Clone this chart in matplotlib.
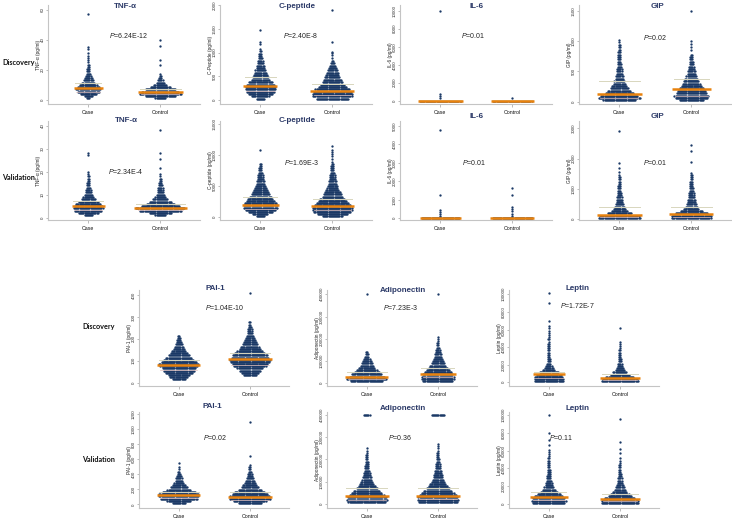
import numpy as np
import matplotlib
matplotlib.use("Agg")
import matplotlib.pyplot as plt
from collections import Counter

plt.rcParams['font.family'] = ['Liberation Sans', 'DejaVu Sans']
plt.rcParams['mathtext.fontset'] = 'custom'
plt.rcParams['mathtext.it'] = 'Liberation Sans:italic'
plt.rcParams['mathtext.rm'] = 'Liberation Sans'

GROUPS = ["Case", "Control"]

# ---------------- data: binned swarm rows (counts of dots per row), outliers, quartiles ----------
# TNF-alpha discovery
TNF_D_START, TNF_D_STEP = 1.0, 1.5
TNF_D_CASE = [3, 8, 15, 20, 23, 20, 16, 12, 9, 7, 5, 4, 3, 3, 2, 2, 1, 1, 1, 1, 1, 0, 1, 1]
TNF_D_CTRL = [10, 28, 38, 34, 28, 18, 12, 8, 5, 3, 2, 1]
TNF_D_CASE_OUT = [57]
TNF_D_CTRL_OUT = [23, 26.5, 36, 40]
TNF_D_CASE_Q = [5.5, 7.8, 11]
TNF_D_CTRL_Q = [4.0, 5.5, 7.0]
TNF_D_P = "6.24E-12"

# C-peptide discovery
CP_D_START, CP_D_STEP = 25, 50
CP_D_CASE = [8, 16, 22, 26, 28, 28, 26, 22, 17, 15, 13, 11, 10, 8, 7, 6, 5, 4, 3, 3, 2, 1]
CP_D_CTRL = [30, 36, 37, 35, 32, 26, 22, 18, 17, 14, 12, 11, 9, 8, 6, 4, 2, 1]
CP_D_CASE_OUT = [1180, 1230, 1480]
CP_D_CTRL_OUT = [940, 990, 1010, 1230, 1900]
CP_D_CASE_Q = [200, 300, 490]
CP_D_CTRL_Q = [110, 200, 330]
CP_D_P = "2.40E-8"

# IL-6 discovery
IL6_D_START, IL6_D_STEP = 20, 250
IL6_D_CASE = [38]
IL6_D_CTRL = [36]
IL6_D_CASE_OUT = [300, 520, 760, 10000]
IL6_D_CTRL_OUT = [300]
IL6_D_CASE_Q = [10, 15, 25]
IL6_D_CTRL_Q = [10, 15, 25]
IL6_D_P = "0.01"

# GIP discovery
GIP_D_START, GIP_D_STEP = 20, 40
GIP_D_CASE = [30, 38, 34, 26, 21, 17, 14, 11, 10, 8, 7, 6, 5, 5, 4, 4, 3, 3, 3, 3, 3, 2, 2, 2, 1, 1]
GIP_D_CTRL = [22, 30, 32, 28, 26, 22, 19, 16, 14, 12, 10, 8, 7, 6, 5, 4, 4, 3, 3, 2]
GIP_D_CASE_OUT = []
GIP_D_CTRL_OUT = [850, 900, 960, 1000, 1500]
GIP_D_CASE_Q = [67, 128, 345]
GIP_D_CTRL_Q = [90, 205, 372]
GIP_D_P = "0.02"

# TNF-alpha validation
TNF_V_START, TNF_V_STEP = 1.0, 1.0
TNF_V_CASE = [8, 18, 25, 27, 26, 23, 18, 13, 10, 8, 6, 5, 4, 3, 3, 2, 2, 2, 1, 1]
TNF_V_CTRL = [10, 20, 38, 45, 35, 26, 20, 14, 10, 8, 6, 5, 5, 4, 3, 2, 2, 1, 1]
TNF_V_CASE_OUT = [27.4, 28.3]
TNF_V_CTRL_OUT = [21.6, 25.5, 28.3, 38]
TNF_V_CASE_Q = [3.5, 5.1, 7.4]
TNF_V_CTRL_Q = [3.2, 4.3, 5.8]
TNF_V_P = "2.34E-4"

# C-peptide validation
CP_V_START, CP_V_STEP = 175, 350
CP_V_CASE = [8, 14, 22, 28, 31, 31, 29, 26, 23, 20, 17, 15, 13, 11, 9, 8, 7, 6, 5, 5, 4, 3, 3, 2, 2]
CP_V_CTRL = [18, 28, 34, 36, 36, 33, 30, 26, 23, 19, 17, 15, 12, 10, 9, 8, 7, 6, 5, 5, 4, 3, 3, 3, 2]
CP_V_CASE_OUT = [10900]
CP_V_CTRL_OUT = [8900, 9450, 9800, 10100, 10500, 10900, 11450]
CP_V_CASE_Q = [1340, 1980, 3300]
CP_V_CTRL_Q = [1180, 1800, 2900]
CP_V_P = "1.69E-3"

# IL-6 validation
IL6_V_START, IL6_V_STEP = 20, 125
IL6_V_CASE = [35]
IL6_V_CTRL = [37]
IL6_V_CASE_OUT = [150, 250, 350, 450, 1250, 4800]
IL6_V_CTRL_OUT = [150, 250, 400, 500, 600, 1250, 1650]
IL6_V_CASE_Q = [10, 20, 40]
IL6_V_CTRL_Q = [10, 20, 40]
IL6_V_P = "0.01"

# GIP validation
GIP_V_START, GIP_V_STEP = 37.5, 75
GIP_V_CASE = [38, 36, 22, 15, 11, 9, 8, 6, 6, 5, 4, 4, 3, 3, 3, 2, 2, 2, 2, 1]
GIP_V_CTRL = [36, 37, 30, 20, 14, 11, 9, 8, 7, 6, 5, 5, 4, 4, 3, 3, 3, 2, 2, 2, 1]
GIP_V_CASE_OUT = [1560, 1700, 1840, 2900]
GIP_V_CTRL_OUT = [1900, 2250, 2450]
GIP_V_CASE_Q = [50, 120, 385]
GIP_V_CTRL_Q = [70, 165, 385]
GIP_V_P = "0.01"

# PAI-1 discovery
PAI_D_START, PAI_D_STEP = 15, 10
PAI_D_CASE = [12, 17, 20, 25, 29, 31, 35, 37, 33, 28, 24, 20, 16, 13, 10, 8, 7, 5, 4, 3, 2]
PAI_D_CTRL = [0, 0, 12, 16, 20, 24, 30, 33, 36, 38, 35, 32, 28, 24, 20, 17, 14, 12, 10, 8, 7, 5, 4, 4, 3, 2, 2]
PAI_D_CASE_OUT = []
PAI_D_CTRL_OUT = [410]
PAI_D_CASE_Q = [58, 83, 103]
PAI_D_CTRL_Q = [80, 106, 136]
PAI_D_P = "1.04E-10"

# Adiponectin discovery
ADI_D_START, ADI_D_STEP = 10000, 10000
ADI_D_CASE = [30, 37, 33, 28, 23, 19, 15, 12, 10, 8, 6, 4, 3, 2]
ADI_D_CTRL = [28, 30, 30, 28, 25, 21, 18, 15, 12, 10, 9, 7, 6, 5, 4, 3, 2, 2, 1, 1, 1]
ADI_D_CASE_OUT = [400000]
ADI_D_CTRL_OUT = [400000]
ADI_D_CASE_Q = [18000, 30000, 52000]
ADI_D_CTRL_Q = [27000, 42000, 67000]
ADI_D_P = "7.23E-3"

# Leptin discovery
LEP_D_START, LEP_D_STEP = 1250, 2500
LEP_D_CASE = [27, 27, 26, 23, 18, 11, 8, 6, 4, 3, 3, 2, 2, 2, 2, 2, 2, 2, 1, 2, 1, 1, 1, 1, 1, 1]
LEP_D_CTRL = [34, 32, 26, 18, 13, 9, 7, 5, 4, 3, 3, 2, 2, 2, 2, 1, 1, 1, 1]
LEP_D_CASE_OUT = [70000, 90000, 102000]
LEP_D_CTRL_OUT = [62000]
LEP_D_CASE_Q = [5000, 9100, 12000]
LEP_D_CTRL_Q = [2500, 4600, 9500]
LEP_D_P = "1.72E-7"

# PAI-1 validation
PAI_V_START, PAI_V_STEP = 15, 30
PAI_V_CASE = [12, 22, 34, 37, 37, 31, 22, 16, 12, 9, 7, 6, 5, 3, 2, 1]
PAI_V_CTRL = [22, 30, 38, 37, 33, 28, 21, 16, 13, 10, 8, 7, 5, 4, 3, 2, 2, 1]
PAI_V_CASE_OUT = [500, 550]
PAI_V_CTRL_OUT = [650, 1100]
PAI_V_CASE_Q = [85, 125, 160]
PAI_V_CTRL_Q = [57, 100, 160]
PAI_V_P = "0.02"

# Adiponectin validation
ADI_V_START, ADI_V_STEP = 10000, 10000
ADI_V_CASE = [35, 38, 36, 32, 28, 24, 20, 16, 13, 11, 9, 8, 7, 6, 5, 4, 4, 3, 3, 2, 2, 2, 1, 1, 1]
ADI_V_CTRL = [36, 38, 37, 34, 30, 26, 22, 18, 15, 12, 10, 9, 8, 7, 6, 5, 4, 4, 3, 3, 2, 2, 2, 1, 1, 1, 1]
ADI_V_CASE_OUT = [400000] * 6
ADI_V_CTRL_OUT = [400000] * 12
ADI_V_CASE_Q = [20000, 35000, 70000]
ADI_V_CTRL_Q = [22000, 38000, 72000]
ADI_V_P = "0.36"

# Leptin validation
LEP_V_START, LEP_V_STEP = 1250, 2500
LEP_V_CASE = [30, 32, 30, 26, 21, 16, 12, 9, 7, 6, 5, 4, 4, 3, 3, 3, 2, 2, 2, 2, 2, 1, 1, 1, 1]
LEP_V_CTRL = [34, 34, 28, 22, 17, 13, 10, 8, 6, 5, 4, 4, 3, 3, 2, 2, 2, 2, 1, 1, 1]
LEP_V_CASE_OUT = [66000, 72000, 80000, 100000]
LEP_V_CTRL_OUT = [57000, 62000, 70000, 95000]
LEP_V_CASE_Q = [4000, 7500, 14000]
LEP_V_CTRL_Q = [3000, 5500, 11000]
LEP_V_P = "0.11"

# ---------------- layout / styling ----------------
W, H = 732, 518
DOT = '#1b3966'
MEDC = '#e8820e'
Q3C = '#d8d6bd'
Q1C = '#e6c3c0'
TITLEC = '#2c3a68'
SPINE = '#c4c4c4'
DX = 0.0152

fig = plt.figure(figsize=(W / 100, H / 100), dpi=100)


def px(x, y):
    return x / W, 1 - y / H


def draw_group(ax, xc, start, step, counts, outliers, q):
    xs, ys = [], []
    for i, n in enumerate(counts):
        if n <= 0:
            continue
        y = start + step * i
        off = (np.arange(n) - (n - 1) / 2) * DX
        xs.extend(xc + off)
        ys.extend([y] * n)
    for v, n in Counter(outliers).items():
        off = (np.arange(n) - (n - 1) / 2) * DX
        xs.extend(xc + off)
        ys.extend([v] * n)
    ax.scatter(xs, ys, s=2.8, c=DOT, linewidths=0, zorder=2)
    hw = (max(counts) - 1) * DX / 2 + 2 * DX
    ax.plot([xc - hw * 0.92, xc + hw * 0.92], [q[2], q[2]], color=Q3C, lw=0.7, zorder=3)
    ax.plot([xc - hw * 0.85, xc + hw * 0.85], [q[0], q[0]], color=Q1C, lw=0.5, zorder=3)
    ax.plot([xc - hw, xc + hw], [q[1], q[1]], color=MEDC, lw=1.8, zorder=4,
            solid_capstyle='butt')


def panel(rect, ylim, yticks, ylabel, title, tpos, pval, ppos,
          start, step, case, ctrl, case_out, ctrl_out, case_q, ctrl_q):
    left, top, width, bottom = rect
    ax = fig.add_axes([left / W, 1 - bottom / H, width / W, (bottom - top) / H])
    draw_group(ax, 0, start, step, case, case_out, case_q)
    draw_group(ax, 1, start, step, ctrl, ctrl_out, ctrl_q)
    ax.set_xlim(-0.56, 1.55)
    ax.set_ylim(*ylim)
    ax.set_yticks(yticks)
    ax.set_yticklabels([str(t) for t in yticks])
    ax.set_xticks([0, 1])
    ax.set_xticklabels(GROUPS)
    for s in ['top', 'right']:
        ax.spines[s].set_visible(False)
    for s in ['left', 'bottom']:
        ax.spines[s].set_color(SPINE)
        ax.spines[s].set_linewidth(0.8)
    ax.tick_params(axis='y', labelsize=3.2, length=1.6, width=0.4, color='#888888',
                   pad=0.5, labelrotation=90, labelcolor='#333333')
    ax.tick_params(axis='x', labelsize=3.8, length=2, width=0.4, color='#888888',
                   pad=2, labelcolor='#111111')
    for lab in ax.get_yticklabels():
        lab.set_va('center')
    ax.set_ylabel(ylabel, fontsize=3.4, labelpad=0.2, color='#222222')
    fig.text(*px(*tpos), title, ha='center', va='center', fontsize=5.8,
             fontweight='bold', color=TITLEC)
    fig.text(*px(*ppos), r'$P$=' + pval, ha='center', va='center', fontsize=5,
             color='#222222')
    return ax


R1 = (5, 104)
R2 = (121, 220)
R3 = (290, 386)
R4 = (412, 508)
TL = [48, 220, 400, 579]
TW = 152
BL = [139, 327, 509]
BW = 150

# top block: discovery
panel((TL[0], R1[0], TW, R1[1]), (-2.7, 63.3), [0, 20, 40, 60], 'TNF-α (pg/ml)', 'TNF-α',
      (125, 6), TNF_D_P, (128, 36), TNF_D_START, TNF_D_STEP, TNF_D_CASE, TNF_D_CTRL,
      TNF_D_CASE_OUT, TNF_D_CTRL_OUT, TNF_D_CASE_Q, TNF_D_CTRL_Q)
panel((TL[1], R1[0], TW, R1[1]), (-84, 2000), [0, 500, 1000, 1500, 2000], 'C-Peptide (pg/ml)',
      'C-peptide', (297, 6), CP_D_P, (300, 35), CP_D_START, CP_D_STEP, CP_D_CASE, CP_D_CTRL,
      CP_D_CASE_OUT, CP_D_CTRL_OUT, CP_D_CASE_Q, CP_D_CTRL_Q)
panel((TL[2], R1[0], TW, R1[1]), (-367, 10633), [0, 2000, 4000, 6000, 8000, 10000],
      'IL-6 (pg/ml)', 'IL-6', (477, 6), IL6_D_P, (473, 36), IL6_D_START, IL6_D_STEP,
      IL6_D_CASE, IL6_D_CTRL, IL6_D_CASE_OUT, IL6_D_CTRL_OUT, IL6_D_CASE_Q, IL6_D_CTRL_Q)
panel((TL[3], R1[0], TW, R1[1]), (-38, 1599), [0, 500, 1000, 1500], 'GIP (pg/ml)', 'GIP',
      (657, 6), GIP_D_P, (655, 38), GIP_D_START, GIP_D_STEP, GIP_D_CASE, GIP_D_CTRL,
      GIP_D_CASE_OUT, GIP_D_CTRL_OUT, GIP_D_CASE_Q, GIP_D_CTRL_Q)

# top block: validation
panel((TL[0], R2[0], TW, R2[1]), (-1, 42), [0, 10, 20, 30, 40], 'TNF-α (pg/ml)', 'TNF-α',
      (126, 120), TNF_V_P, (126, 172), TNF_V_START, TNF_V_STEP, TNF_V_CASE, TNF_V_CTRL,
      TNF_V_CASE_OUT, TNF_V_CTRL_OUT, TNF_V_CASE_Q, TNF_V_CTRL_Q)
panel((TL[1], R2[0], TW, R2[1]), (-434, 15482), [0, 5000, 10000, 15000], 'C-peptide (pg/ml)',
      'C-peptide', (297, 120), CP_V_P, (302, 163), CP_V_START, CP_V_STEP, CP_V_CASE,
      CP_V_CTRL, CP_V_CASE_OUT, CP_V_CTRL_OUT, CP_V_CASE_Q, CP_V_CTRL_Q)
panel((TL[2], R2[0], TW, R2[1]), (-92, 5271), [0, 1000, 2000, 3000, 4000, 5000],
      'IL-6 (pg/ml)', 'IL-6', (477, 117), IL6_V_P, (474, 163), IL6_V_START, IL6_V_STEP,
      IL6_V_CASE, IL6_V_CTRL, IL6_V_CASE_OUT, IL6_V_CTRL_OUT, IL6_V_CASE_Q, IL6_V_CTRL_Q)
panel((TL[3], R2[0], TW, R2[1]), (-33, 3242), [0, 1000, 2000, 3000], 'GIP (pg/ml)', 'GIP',
      (657, 117), GIP_V_P, (655, 163), GIP_V_START, GIP_V_STEP, GIP_V_CASE, GIP_V_CTRL,
      GIP_V_CASE_OUT, GIP_V_CTRL_OUT, GIP_V_CASE_Q, GIP_V_CTRL_Q)

# bottom block: discovery
panel((BL[0], R3[0], BW, R3[1]), (-15, 423), [0, 100, 200, 300, 400], 'PAI-1 (pg/ml)', 'PAI-1',
      (215, 288), PAI_D_P, (224, 307), PAI_D_START, PAI_D_STEP, PAI_D_CASE, PAI_D_CTRL,
      PAI_D_CASE_OUT, PAI_D_CTRL_OUT, PAI_D_CASE_Q, PAI_D_CTRL_Q)
panel((BL[1], R3[0], BW, R3[1]), (-12100, 419300), [0, 100000, 200000, 300000, 400000],
      'Adiponectin (pg/ml)', 'Adiponectin', (403, 290), ADI_D_P, (401, 307), ADI_D_START,
      ADI_D_STEP, ADI_D_CASE, ADI_D_CTRL, ADI_D_CASE_OUT, ADI_D_CTRL_OUT, ADI_D_CASE_Q,
      ADI_D_CTRL_Q)
panel((BL[2], R3[0], BW, R3[1]), (-4200, 104900), [0, 20000, 40000, 60000, 80000, 100000],
      'Leptin (pg/ml)', 'Leptin', (578, 289), LEP_D_P, (577, 306), LEP_D_START, LEP_D_STEP,
      LEP_D_CASE, LEP_D_CTRL, LEP_D_CASE_OUT, LEP_D_CTRL_OUT, LEP_D_CASE_Q, LEP_D_CTRL_Q)

# bottom block: validation
panel((BL[0], R4[0], BW, R4[1]), (-49, 1231), [0, 200, 400, 600, 800, 1000, 1200],
      'PAI-1 (pg/ml)', 'PAI-1', (212, 407), PAI_V_P, (215, 438), PAI_V_START, PAI_V_STEP,
      PAI_V_CASE, PAI_V_CTRL, PAI_V_CASE_OUT, PAI_V_CTRL_OUT, PAI_V_CASE_Q, PAI_V_CTRL_Q)
panel((BL[1], R4[0], BW, R4[1]), (-18000, 413500), [0, 100000, 200000, 300000, 400000],
      'Adiponectin (pg/ml)', 'Adiponectin', (403, 409), ADI_V_P, (400, 438), ADI_V_START,
      ADI_V_STEP, ADI_V_CASE, ADI_V_CTRL, ADI_V_CASE_OUT, ADI_V_CTRL_OUT, ADI_V_CASE_Q,
      ADI_V_CTRL_Q)
panel((BL[2], R4[0], BW, R4[1]), (-4500, 103400), [0, 20000, 40000, 60000, 80000, 100000],
      'Leptin (pg/ml)', 'Leptin', (578, 409), LEP_V_P, (561, 438), LEP_V_START, LEP_V_STEP,
      LEP_V_CASE, LEP_V_CTRL, LEP_V_CASE_OUT, LEP_V_CTRL_OUT, LEP_V_CASE_Q, LEP_V_CTRL_Q)

# row labels
for (x, y, s) in [(2, 62, 'Discovery'), (2, 178, 'Validation'),
                  (82, 327, 'Discovery'), (82, 460, 'Validation')]:
    fig.text(*px(x, y), s, ha='left', va='center', fontsize=5.2, fontweight='bold',
             family=['Lato', 'DejaVu Sans'], color='#111111')

fig.savefig('out.png', dpi=100)
